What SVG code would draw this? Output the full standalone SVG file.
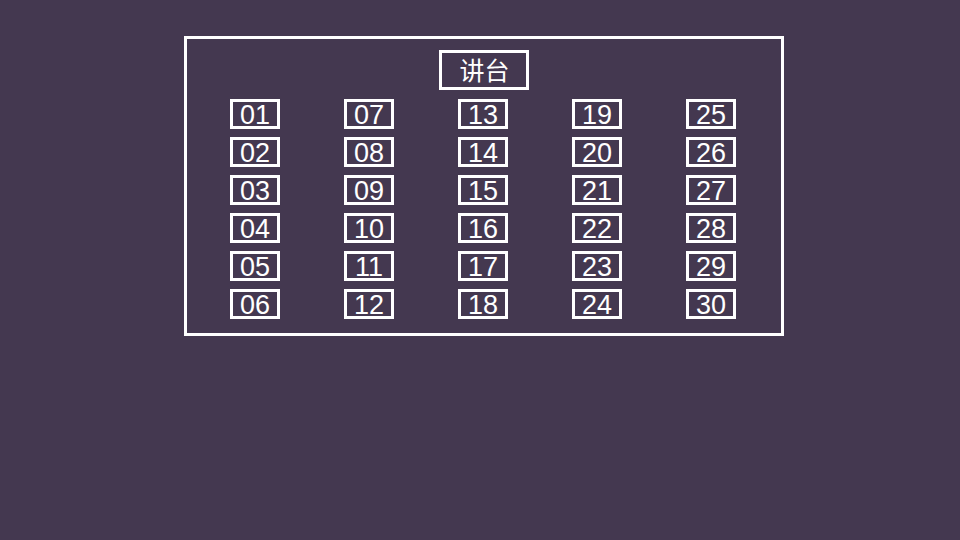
<svg xmlns="http://www.w3.org/2000/svg" width="960" height="540" viewBox="0 0 960 540">
<style>
.bg{fill:#443850}
.frame{fill:none;stroke:#fff;stroke-width:3}
.seat rect{fill:none;stroke:#fff;stroke-width:3}
.seat text{fill:#fff;font-family:"Liberation Sans",Arial,sans-serif;font-size:27px;text-anchor:middle}
.podium text{fill:#fff;font-family:"Liberation Sans","Noto Sans CJK SC",sans-serif;font-size:25px;text-anchor:middle}
</style>
<rect class="bg" x="0" y="0" width="960" height="540"/>
<g id="classroom"><rect class="frame" x="185.5" y="37.5" width="597" height="297"/></g>
<g id="podium" class="podium"><rect class="frame" x="440.5" y="51.5" width="87" height="37"/><text x="484.5" y="80">讲台</text></g>
<g id="connectors"></g>
<g id="seats">
<g id="s01" class="seat"><rect x="231.5" y="100.5" width="47" height="27"/><text x="255" y="124">01</text></g>
<g id="s02" class="seat"><rect x="231.5" y="138.5" width="47" height="27"/><text x="255" y="162">02</text></g>
<g id="s03" class="seat"><rect x="231.5" y="176.5" width="47" height="27"/><text x="255" y="200">03</text></g>
<g id="s04" class="seat"><rect x="231.5" y="214.5" width="47" height="27"/><text x="255" y="238">04</text></g>
<g id="s05" class="seat"><rect x="231.5" y="252.5" width="47" height="27"/><text x="255" y="276">05</text></g>
<g id="s06" class="seat"><rect x="231.5" y="290.5" width="47" height="27"/><text x="255" y="314">06</text></g>
<g id="s07" class="seat"><rect x="345.5" y="100.5" width="47" height="27"/><text x="369" y="124">07</text></g>
<g id="s08" class="seat"><rect x="345.5" y="138.5" width="47" height="27"/><text x="369" y="162">08</text></g>
<g id="s09" class="seat"><rect x="345.5" y="176.5" width="47" height="27"/><text x="369" y="200">09</text></g>
<g id="s10" class="seat"><rect x="345.5" y="214.5" width="47" height="27"/><text x="369" y="238">10</text></g>
<g id="s11" class="seat"><rect x="345.5" y="252.5" width="47" height="27"/><text x="369" y="276">11</text></g>
<g id="s12" class="seat"><rect x="345.5" y="290.5" width="47" height="27"/><text x="369" y="314">12</text></g>
<g id="s13" class="seat"><rect x="459.5" y="100.5" width="47" height="27"/><text x="483" y="124">13</text></g>
<g id="s14" class="seat"><rect x="459.5" y="138.5" width="47" height="27"/><text x="483" y="162">14</text></g>
<g id="s15" class="seat"><rect x="459.5" y="176.5" width="47" height="27"/><text x="483" y="200">15</text></g>
<g id="s16" class="seat"><rect x="459.5" y="214.5" width="47" height="27"/><text x="483" y="238">16</text></g>
<g id="s17" class="seat"><rect x="459.5" y="252.5" width="47" height="27"/><text x="483" y="276">17</text></g>
<g id="s18" class="seat"><rect x="459.5" y="290.5" width="47" height="27"/><text x="483" y="314">18</text></g>
<g id="s19" class="seat"><rect x="573.5" y="100.5" width="47" height="27"/><text x="597" y="124">19</text></g>
<g id="s20" class="seat"><rect x="573.5" y="138.5" width="47" height="27"/><text x="597" y="162">20</text></g>
<g id="s21" class="seat"><rect x="573.5" y="176.5" width="47" height="27"/><text x="597" y="200">21</text></g>
<g id="s22" class="seat"><rect x="573.5" y="214.5" width="47" height="27"/><text x="597" y="238">22</text></g>
<g id="s23" class="seat"><rect x="573.5" y="252.5" width="47" height="27"/><text x="597" y="276">23</text></g>
<g id="s24" class="seat"><rect x="573.5" y="290.5" width="47" height="27"/><text x="597" y="314">24</text></g>
<g id="s25" class="seat"><rect x="687.5" y="100.5" width="47" height="27"/><text x="711" y="124">25</text></g>
<g id="s26" class="seat"><rect x="687.5" y="138.5" width="47" height="27"/><text x="711" y="162">26</text></g>
<g id="s27" class="seat"><rect x="687.5" y="176.5" width="47" height="27"/><text x="711" y="200">27</text></g>
<g id="s28" class="seat"><rect x="687.5" y="214.5" width="47" height="27"/><text x="711" y="238">28</text></g>
<g id="s29" class="seat"><rect x="687.5" y="252.5" width="47" height="27"/><text x="711" y="276">29</text></g>
<g id="s30" class="seat"><rect x="687.5" y="290.5" width="47" height="27"/><text x="711" y="314">30</text></g>
</g>
</svg>
